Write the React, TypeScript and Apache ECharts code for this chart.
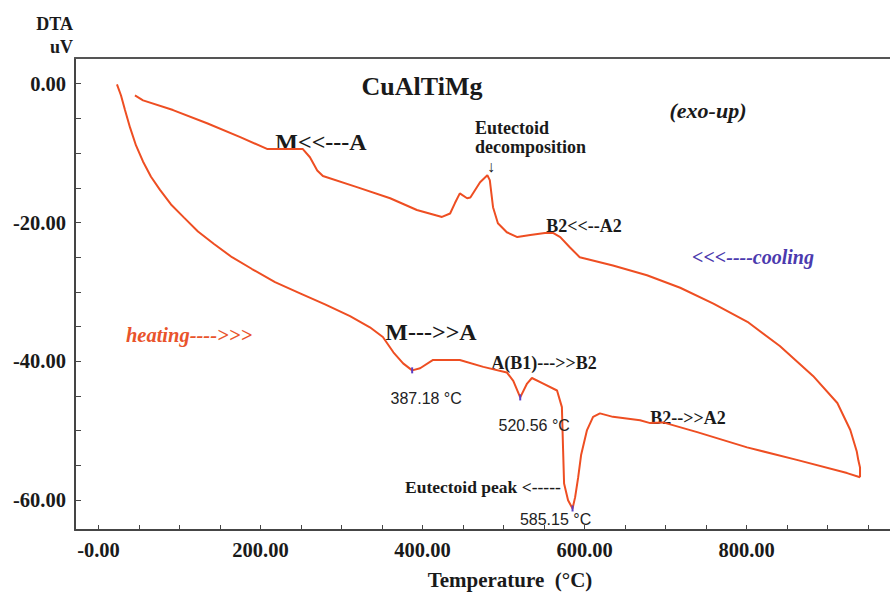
import { useEffect, useRef } from "react";
import * as echarts from "echarts";

// Heating run (lower branch), temperature °C and DTA signal uV
const heatingT = [22.8, 27.8, 32.7, 38.9, 46.3, 54.9, 64.8, 75.9, 89.5, 105.6, 122.8, 142.6, 164.8, 189.5, 217.9, 248.8, 279.6, 310.5, 335, 351, 364, 376, 387.18, 397, 413, 446, 475, 504, 512, 520.56, 529, 535, 549, 566, 572, 573.5, 574.7, 579.6, 585.15, 588.3, 592, 595.7, 603, 610.5, 619, 635, 668.5, 681, 697, 739, 800.6, 862, 924, 940];
const heatingV = [-0.1, -1.7, -3.8, -6.3, -8.9, -11.2, -13.4, -15.3, -17.4, -19.3, -21.3, -23.1, -25.0, -26.7, -28.6, -30.2, -31.8, -33.5, -35.1, -36.5, -38.7, -40.3, -41.3, -41.0, -39.8, -39.8, -40.8, -41.6, -42.8, -45.2, -43.2, -42.4, -43.2, -44.2, -46.6, -52.8, -57.6, -60.0, -61.2, -59.6, -56.8, -53.5, -49.9, -48.0, -47.5, -48.0, -48.5, -48.9, -48.8, -50.2, -52.4, -54.2, -56.1, -56.7];

// Cooling run (upper branch), from the hot end back to room temperature
const coolingT = [940, 940, 938, 936, 928, 912, 882, 841, 801, 759, 718, 677, 635, 594, 582, 570, 561, 551, 533, 517, 504, 493, 487, 483, 480, 471, 459, 455, 446, 440, 434, 424, 393, 360, 319, 277, 270, 261, 252, 208, 175, 134, 92, 55, 45];
const coolingV = [-56.7, -55.3, -54.3, -53.0, -49.9, -46.0, -42.1, -37.8, -34.3, -31.7, -29.4, -27.6, -26.2, -25.0, -23.6, -22.1, -21.5, -21.5, -21.8, -22.1, -21.4, -20.1, -17.8, -13.9, -13.2, -14.2, -16.4, -16.5, -15.8, -17.2, -18.7, -19.2, -18.2, -16.5, -14.9, -13.3, -12.5, -10.6, -9.4, -9.4, -7.7, -5.7, -3.8, -2.4, -1.7];

// Marked endothermic peaks
const peakT = [387.18, 520.56, 585.15];
const peakV = [-41.3, -45.2, -61.2];

// Axis labels and ticks
const xLabelValues = [0, 200, 400, 600, 800];
const xTickValues = [0, 50, 100, 150, 200, 250, 300, 350, 400, 450, 500, 550, 600, 650, 700, 750, 800, 850, 900, 950];
const yLabelValues = [0, -20, -40, -60];
const yTickValues = [0, -5, -10, -15, -20, -25, -30, -35, -40, -45, -50, -55, -60];

const LINE = "#ee4e22";
const SERIF = "'Liberation Serif', 'Times New Roman', serif";
const SANS = "'Liberation Sans', Arial, sans-serif";

export default function App() {
  const ref = useRef<HTMLDivElement>(null);

  useEffect(() => {
    if (!ref.current) return;
    const chart = echarts.init(ref.current, undefined, { renderer: "svg" });

    const heating = heatingT.map((t, i) => [t, heatingV[i]]);
    const cooling = coolingT.map((t, i) => [t, coolingV[i]]);
    const labelOffsets = [[14, 28], [14, 28], [-17, 11]];
    const peaks = peakT.map((t, i) => ({
      value: [t, peakV[i]],
      label: { offset: labelOffsets[i] },
    }));

    const txt = (
      text: string,
      x: number,
      y: number,
      size: number,
      opts: any = {}
    ) => ({
      type: "text",
      x,
      y,
      silent: true,
      style: {
        text,
        fill: opts.fill || "#1a1a1a",
        font: `${opts.italic ? "italic " : ""}bold ${size}px ${opts.family || SERIF}`,
        textAlign: opts.align || "center",
        textVerticalAlign: "middle",
      },
    });

    chart.setOption({
      animation: false,
      backgroundColor: "#ffffff",
      grid: { left: 75, right: 0, top: 58, bottom: 62 },
      xAxis: [
        {
          type: "value",
          min: -29,
          max: 977,
          axisLine: { show: true, onZero: false, lineStyle: { color: "#454545", width: 2 } },
          axisTick: {
            show: true,
            inside: true,
            length: 5,
            customValues: xTickValues,
            lineStyle: { color: "#454545", width: 1 },
          },
          axisLabel: {
            show: true,
            customValues: xLabelValues,
            margin: 9,
            color: "#1a1a1a",
            fontFamily: SERIF,
            fontWeight: "bold",
            fontSize: 20.5,
            formatter: (v: number) => (v === 0 ? "-0.00" : v.toFixed(2)),
          },
          splitLine: { show: false },
        },
        {
          type: "value",
          position: "top",
          min: -29,
          max: 977,
          axisLine: { show: true, onZero: false, lineStyle: { color: "#555555", width: 2 } },
          axisTick: { show: false },
          axisLabel: { show: false },
          splitLine: { show: false },
        },
      ],
      yAxis: {
        type: "value",
        min: -64.3,
        max: 3.7,
        axisLine: { show: true, onZero: false, lineStyle: { color: "#454545", width: 2 } },
        axisTick: {
          show: true,
          inside: true,
          length: 6,
          customValues: yTickValues,
          lineStyle: { color: "#454545", width: 1 },
        },
        axisLabel: {
          show: true,
          customValues: yLabelValues,
          margin: 9,
          color: "#1a1a1a",
          fontFamily: SERIF,
          fontWeight: "bold",
          fontSize: 20.5,
          formatter: (v: number) => v.toFixed(2),
        },
        splitLine: { show: false },
      },
      series: [
        {
          name: "heating",
          type: "line",
          data: heating,
          showSymbol: false,
          lineStyle: { color: LINE, width: 2 },
          itemStyle: { color: LINE },
          z: 3,
        },
        {
          name: "cooling",
          type: "line",
          data: cooling,
          showSymbol: false,
          lineStyle: { color: LINE, width: 2 },
          itemStyle: { color: LINE },
          z: 3,
        },
        {
          name: "peaks",
          type: "scatter",
          data: peaks,
          symbol: "rect",
          symbolSize: [2, 6],
          itemStyle: { color: "#5b3fc4", opacity: 1 },
          z: 4,
          label: {
            show: true,
            position: "inside",
            color: "#222222",
            opacity: 1,
            fontFamily: SANS,
            fontSize: 16,
            formatter: (p: any) => `${p.value[0].toFixed(2)} °C`,
          },
        },
      ],
      graphic: [
        txt("DTA", 73, 24, 18, { align: "right" }),
        txt("uV", 73, 47, 18, { align: "right" }),
        txt("CuAlTiMg", 422, 86, 26),
        txt("(exo-up)", 708, 110, 22, { italic: true }),
        txt("M<<---A", 321, 142, 24),
        txt("Eutectoid", 475, 128, 18, { align: "left" }),
        txt("decomposition", 475, 147, 18, { align: "left" }),
        txt("↓", 491, 166, 16),
        txt("B2<<--A2", 584, 226, 18),
        txt("<<<----cooling", 753, 257, 20, { italic: true, fill: "#4b3aae" }),
        txt("heating---->>>", 189, 335, 20.5, { italic: true, fill: "#e9532b" }),
        txt("M--->>A", 431, 332, 24),
        txt("A(B1)--->>B2", 544, 363, 18),
        txt("B2-->>A2", 688, 418, 18),
        txt("Eutectoid peak <-----", 405, 487, 17.5, { align: "left" }),
        txt("Temperature  (°C)", 510, 580, 21),
      ],
    });

    return () => chart.dispose();
  }, []);

  return (
    <div
      ref={ref}
      style={{ position: "absolute", left: 0, top: 0, width: 890, height: 592 }}
    />
  );
}
